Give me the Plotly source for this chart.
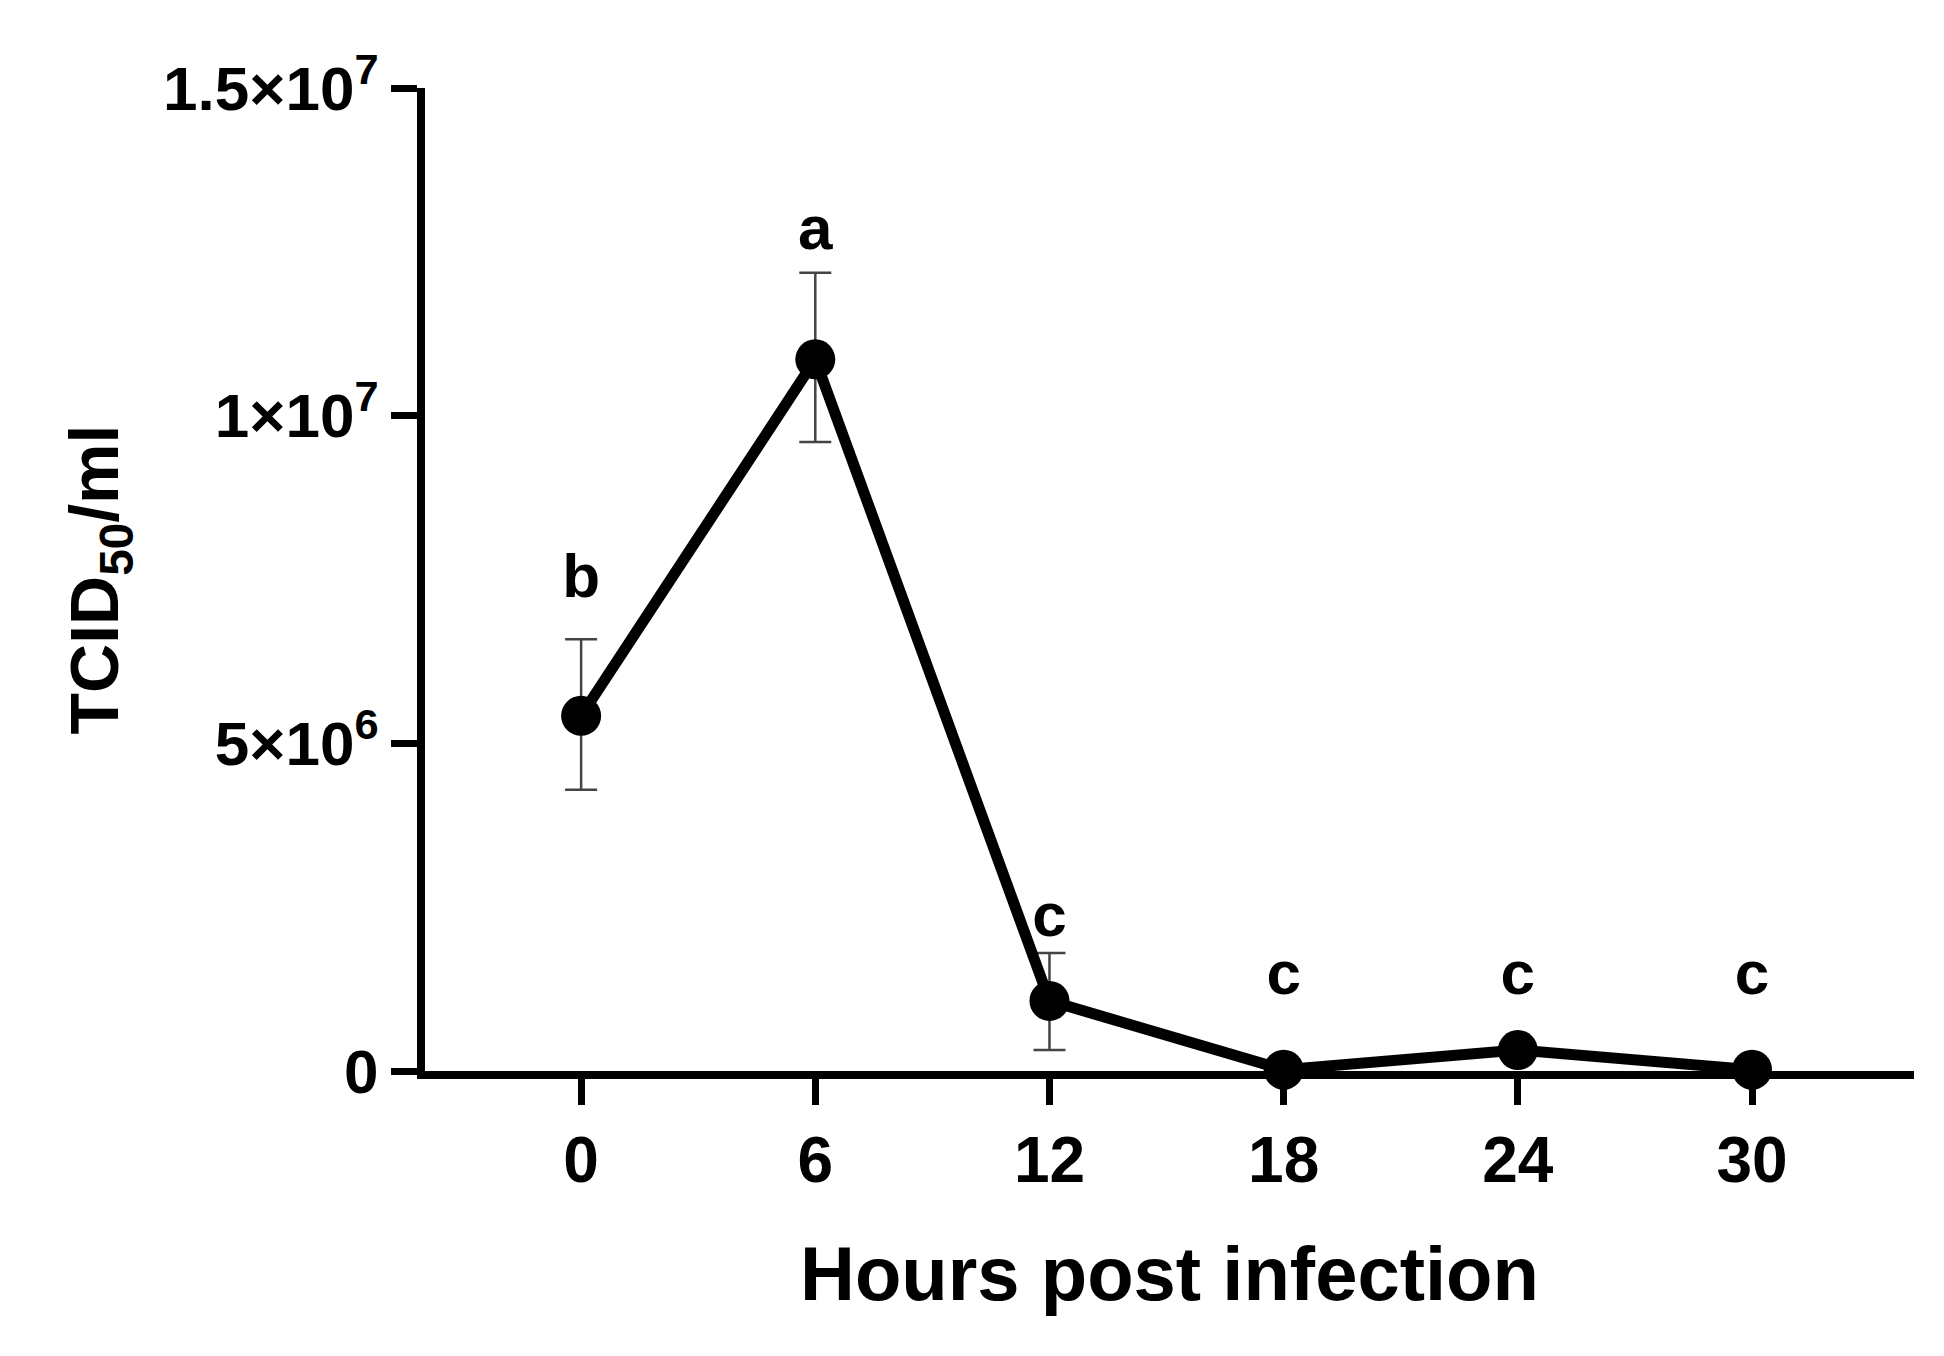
import plotly.graph_objects as go

hours = [0, 6, 12, 18, 24, 30]
titer = [5.42e6, 1.086e7, 1.07e6, 0.02e6, 0.32e6, 0.02e6]
err_up = [1.17e6, 1.32e6, 0.73e6, 0, 0, 0]
err_down = [1.13e6, 1.26e6, 0.75e6, 0, 0, 0]
letters = ["<b>b</b>", "<b>a</b>", "<b>c</b>", "<b>c</b>", "<b>c</b>", "<b>c</b>"]
letter_y = [7.47e6, 1.278e7, 2.3e6, 1.41e6, 1.41e6, 1.41e6]
ytick_vals = [0, 5e6, 1e7, 1.5e7]
ytick_text = ["0", "5×10<sup>6</sup>", "1×10<sup>7</sup>", "1.5×10<sup>7</sup>"]

font = "Liberation Sans, Arial, sans-serif"
fig = go.Figure()
fig.add_trace(go.Scatter(
    x=hours, y=titer, mode="lines+markers",
    line=dict(color="black", width=11),
    marker=dict(color="black", size=40),
    error_y=dict(type="data", symmetric=False, array=err_up, arrayminus=err_down,
                 color="#444", thickness=2.5, width=16),
    showlegend=False, cliponaxis=False))
fig.add_trace(go.Scatter(
    x=hours, y=letter_y, mode="text", text=letters,
    textfont=dict(family=font, size=62, color="black"),
    showlegend=False, cliponaxis=False))
fig.update_layout(
    width=1944, height=1356, paper_bgcolor="white", plot_bgcolor="white",
    margin=dict(l=417, r=38, t=80, b=293),
    font=dict(family=font, color="black"),
    xaxis=dict(range=[-4.0, 34.15], tickvals=hours, ticks="outside", ticklen=26,
               tickwidth=7, tickcolor="black", showline=True, linewidth=8, linecolor="black",
               showgrid=False, zeroline=False,
               tickfont=dict(size=64, family=font, weight="bold"),
               title=dict(text="<b>Hours post infection</b>", font=dict(size=76), standoff=55)),
    yaxis=dict(range=[0, 1.5e7], tickvals=ytick_vals, ticktext=ytick_text,
               ticks="outside", ticklen=26, tickwidth=7, tickcolor="black", showline=True,
               linewidth=8, linecolor="black", showgrid=False, zeroline=False,
               tickfont=dict(size=62, family=font, weight="bold"),
               title=dict(text="<b>TCID<sub>50</sub>/ml</b>", font=dict(size=68), standoff=25)),
)
fig.write_html("out.html")
